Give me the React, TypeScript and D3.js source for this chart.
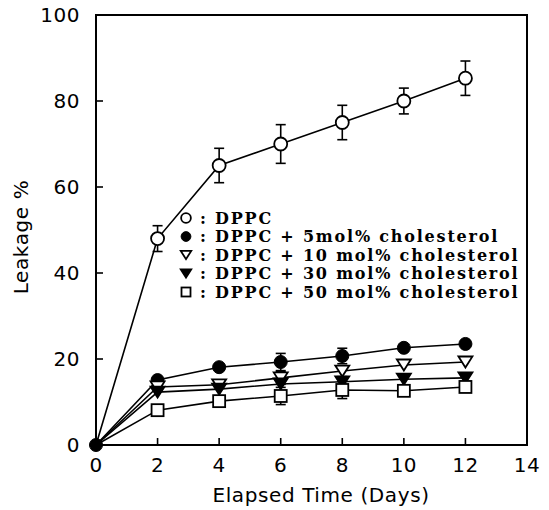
import React from "react";
import * as d3 from "d3";

// Elapsed time (days) at which leakage was measured
const days = [0, 2, 4, 6, 8, 10, 12];

// Leakage % per formulation, with error (± half-range) where drawn
const dppc = [0, 48, 65, 70, 75, 80, 85.3];
const dppcErr = [0, 3, 4, 4.5, 4, 3, 4];
const chol5 = [0, 15.1, 18.1, 19.3, 20.7, 22.6, 23.5];
const chol5Err = [0, 0, 0, 2, 1.8, 0, 0];
const chol10 = [0, 13.5, 14, 15.6, 17.2, 18.6, 19.3];
const chol10Err = [0, 0, 0, 1.5, 0, 0, 0];
const chol30 = [0, 12.3, 13, 14.2, 14.7, 15.3, 15.6];
const chol30Err = [0, 0, 0, 0, 1.2, 0, 0];
const chol50 = [0, 8.1, 10.2, 11.4, 12.8, 12.6, 13.5];
const chol50Err = [0, 0, 0, 2, 2, 0, 0];

const legendLabels = [
  ": DPPC",
  ": DPPC + 5mol% cholesterol",
  ": DPPC + 10 mol% cholesterol",
  ": DPPC + 30 mol% cholesterol",
  ": DPPC + 50 mol% cholesterol",
];

const xTicks = [0, 2, 4, 6, 8, 10, 12, 14];
const yTicks = [0, 20, 40, 60, 80, 100];

type Shape = "circleOpen" | "circleFilled" | "triDownOpen" | "triDownFilled" | "squareOpen";

const series: { values: number[]; err: number[]; shape: Shape }[] = [
  { values: dppc, err: dppcErr, shape: "circleOpen" },
  { values: chol5, err: chol5Err, shape: "circleFilled" },
  { values: chol10, err: chol10Err, shape: "triDownOpen" },
  { values: chol30, err: chol30Err, shape: "triDownFilled" },
  { values: chol50, err: chol50Err, shape: "squareOpen" },
];

const x = d3.scaleLinear().domain([0, 14]).range([96, 527]);
const y = d3.scaleLinear().domain([0, 100]).range([445, 15]);

function Marker({ shape, cx, cy, s = 1 }: { shape: Shape; cx: number; cy: number; s?: number }) {
  const sw = 1.8;
  switch (shape) {
    case "circleOpen":
      return <circle cx={cx} cy={cy} r={6.5 * s} fill="#fff" stroke="#000" strokeWidth={sw} />;
    case "circleFilled":
      return <circle cx={cx} cy={cy} r={6.5 * s} fill="#000" stroke="#000" strokeWidth={1} />;
    case "triDownOpen":
    case "triDownFilled": {
      const w = 14 * s, h = 11 * s;
      const p = `M${cx - w / 2},${cy - h / 2}L${cx + w / 2},${cy - h / 2}L${cx},${cy + h / 2}Z`;
      return (
        <path
          d={p}
          fill={shape === "triDownFilled" ? "#000" : "#fff"}
          stroke="#000"
          strokeWidth={sw}
          strokeLinejoin="miter"
        />
      );
    }
    case "squareOpen": {
      const a = 12 * s;
      return <rect x={cx - a / 2} y={cy - a / 2} width={a} height={a} fill="#fff" stroke="#000" strokeWidth={sw} />;
    }
  }
}

export default function App() {
  const line = d3
    .line<number>()
    .x((_, i) => x(days[i]))
    .y((v) => y(v));

  const tickFont = { fontFamily: "DejaVu Sans", fontSize: 20, fill: "#000" } as const;

  return (
    <svg
      width={549}
      height={510}
      style={{ position: "absolute", left: 0, top: 0, background: "#fff" }}
    >
      <rect x={0} y={0} width={549} height={510} fill="#fff" />
      {/* frame */}
      <rect
        x={x(0)}
        y={y(100)}
        width={x(14) - x(0)}
        height={y(0) - y(100)}
        fill="none"
        stroke="#000"
        strokeWidth={2}
      />
      {/* inward ticks */}
      {yTicks.filter((t) => t > 0 && t < 100).map((t) => (
        <line key={"yt" + t} x1={x(0)} x2={x(0) + 7} y1={y(t)} y2={y(t)} stroke="#000" strokeWidth={1.6} />
      ))}
      {xTicks.filter((t) => t > 0 && t < 14).map((t) => (
        <line key={"xt" + t} x1={x(t)} x2={x(t)} y1={y(0)} y2={y(0) - 7} stroke="#000" strokeWidth={1.6} />
      ))}
      {/* tick labels */}
      {yTicks.map((t) => (
        <text key={"yl" + t} x={80} y={y(t)} dy="0.36em" textAnchor="end" {...tickFont} letterSpacing={0.5}>
          {t}
        </text>
      ))}
      {xTicks.map((t) => (
        <text key={"xl" + t} x={x(t)} y={472} textAnchor="middle" {...tickFont} letterSpacing={0.5}>
          {t}
        </text>
      ))}
      {/* axis titles */}
      <text x={321} y={502} textAnchor="middle" {...tickFont} letterSpacing={0.6}>
        Elapsed Time (Days)
      </text>
      <text
        transform={`translate(28,237) rotate(-90)`}
        textAnchor="middle"
        {...tickFont}
        letterSpacing={0.6}
      >
        Leakage %
      </text>

      {/* series lines */}
      {series.map((s, i) => (
        <path key={"ln" + i} d={line(s.values) || ""} fill="none" stroke="#000" strokeWidth={1.6} />
      ))}

      {/* error bars */}
      {series.map((s, i) =>
        s.values.map((v, j) =>
          s.err[j] > 0 ? (
            <g key={`eb${i}-${j}`} stroke="#000" strokeWidth={1.6}>
              <line x1={x(days[j])} x2={x(days[j])} y1={y(v - s.err[j])} y2={y(v + s.err[j])} />
              <line x1={x(days[j]) - 5} x2={x(days[j]) + 5} y1={y(v + s.err[j])} y2={y(v + s.err[j])} />
              <line x1={x(days[j]) - 5} x2={x(days[j]) + 5} y1={y(v - s.err[j])} y2={y(v - s.err[j])} />
            </g>
          ) : null
        )
      )}

      {/* markers after day 0 */}
      {series.map((s, i) =>
        s.values.map((v, j) =>
          j > 0 ? <Marker key={`m${i}-${j}`} shape={s.shape} cx={x(days[j])} cy={y(v)} /> : null
        )
      )}
      {/* shared day-0 point, drawn as a filled circle */}
      <Marker shape="circleFilled" cx={x(days[0])} cy={y(chol5[0])} />

      {/* legend */}
      {series.map((s, i) => {
        const ly = 218 + i * 18.5;
        return (
          <g key={"lg" + i}>
            <Marker shape={s.shape} cx={186} cy={ly} s={0.75} />
            <text
              x={200}
              y={ly}
              dy="0.35em"
              fontFamily="DejaVu Serif"
              fontWeight="bold"
              fontSize={16}
              letterSpacing={1.8}
              fill="#000"
            >
              {legendLabels[i]}
            </text>
          </g>
        );
      })}
    </svg>
  );
}
